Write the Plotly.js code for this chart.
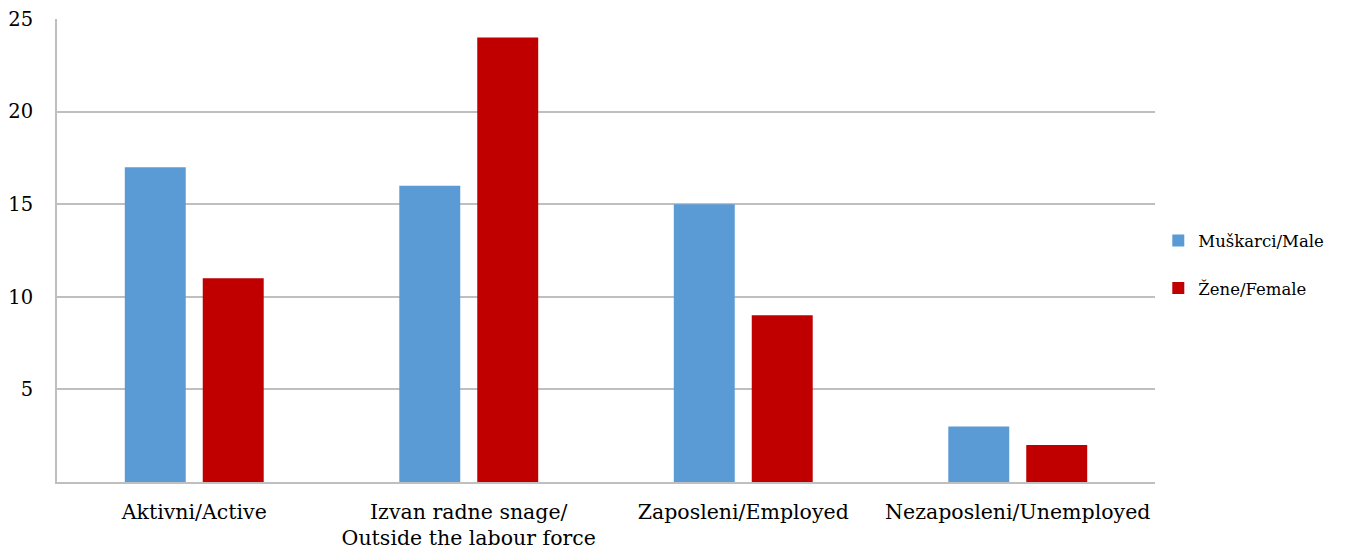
<!DOCTYPE html>
<html><head><meta charset="utf-8">
<script src="https://cdn.plot.ly/plotly-3.0.1.min.js"></script>
<style>html,body{margin:0;padding:0;background:#fff}#c{width:1362px;height:552px}</style>
</head><body><div id="c"></div>
<script>
const categories = ["Aktivni/Active", "Izvan radne snage/<br>Outside the labour force", "Zaposleni/Employed", "Nezaposleni/Unemployed"];
const male = [17, 16, 15, 3];
const female = [11, 24, 9, 2];
const seriesNames = ["Muškarci/Male", "Žene/Female"];
const yTicks = [5, 10, 15, 20, 25];

const font = "DejaVu Serif, serif";
const data = [
  {type:"bar", x:categories, y:male, name:seriesNames[0], legendgroup:"a", marker:{color:"#5b9bd5"}},
  {type:"bar", x:categories, y:female, name:seriesNames[1], legendgroup:"b", marker:{color:"#c00000"}}
];
const layout = {
  width:1362, height:552,
  margin:{l:57, r:207, t:19, b:70},
  paper_bgcolor:"#fff", plot_bgcolor:"#fff",
  font:{family:font, size:21, color:"#000"},
  barmode:"group", bargap:0.432, bargroupgap:0.218,
  showlegend:true,
  legend:{x:1.003, y:0.47, yanchor:"middle", xanchor:"left", font:{size:16.5}, traceorder:"grouped", tracegroupgap:23, itemwidth:30},
  xaxis:{showline:true, linecolor:"#bfbfbf", linewidth:2, ticks:"outside", ticklen:10, tickcolor:"rgba(0,0,0,0)", showgrid:false, tickfont:{size:20.5}},
  yaxis:{range:[0,25], tickvals:yTicks, showgrid:true, gridcolor:"#bfbfbf", gridwidth:1.5, zeroline:false,
         showline:true, linecolor:"#bfbfbf", linewidth:2, ticks:"outside", ticklen:18, tickcolor:"rgba(0,0,0,0)", tickfont:{size:19.5}}
};
Plotly.newPlot("c", data, layout, {displayModeBar:false});
</script></body></html>
